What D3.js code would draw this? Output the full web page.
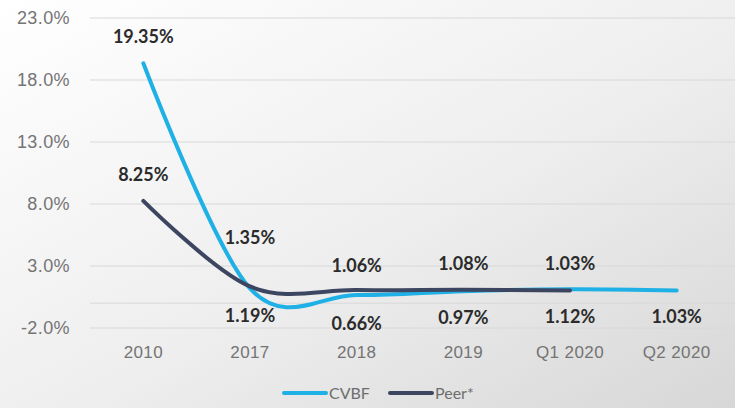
<!DOCTYPE html>
<html>
<head>
<meta charset="utf-8">
<script src="https://cdn.jsdelivr.net/npm/d3@7"></script>
<style>
  body { margin: 0; }
  svg { display: block; font-family: Lato, "Open Sans", sans-serif; }
  .tick text { fill: #747474; font-size: 18px; letter-spacing: 0.4px; }
  .val { font-weight: bold; fill: #2b2b2b; font-size: 18px; text-anchor: middle; }
  .leg { fill: #6e6e6e; font-size: 16px; }
</style>
</head>
<body>
<div id="chart"></div>
<script>
// Data
var categories = ["2010", "2017", "2018", "2019", "Q1 2020", "Q2 2020"];
var cvbf = [19.35, 1.19, 0.66, 0.97, 1.12, 1.03];
var peer = [8.25, 1.35, 1.06, 1.08, 1.03];
var yTicks = [-2, 3, 8, 13, 18, 23];

var width = 735, height = 408;
var plotLeft = 90, plotRight = 730, plotTop = 18, plotBottom = 328;

var svg = d3.select("#chart").append("svg")
    .attr("width", width)
    .attr("height", height);

// background gradient
var grad = svg.append("defs").append("linearGradient")
    .attr("id", "bg")
    .attr("x1", "0").attr("y1", "0")
    .attr("x2", "1").attr("y2", "1");
grad.append("stop").attr("offset", "0%").attr("stop-color", "#ffffff");
grad.append("stop").attr("offset", "55%").attr("stop-color", "#eeeeee");
grad.append("stop").attr("offset", "100%").attr("stop-color", "#d7d7d7");
svg.append("rect").attr("width", width).attr("height", height).attr("fill", "url(#bg)");

var x = d3.scaleBand().domain(categories).range([plotLeft, plotRight]);
var y = d3.scaleLinear().domain([-2, 23]).range([plotBottom, plotTop]);

function cx(i) { return x(categories[i]) + x.bandwidth() / 2; }

// gridlines
svg.append("g").selectAll("line")
    .data(yTicks.concat([0]))
    .enter().append("line")
    .attr("x1", plotLeft).attr("x2", width)
    .attr("y1", function(d) { return y(d); })
    .attr("y2", function(d) { return y(d); })
    .attr("stroke", "#d8d8d8")
    .attr("stroke-width", 1);

// y axis labels
var yAxis = d3.axisLeft(y).tickValues(yTicks)
    .tickFormat(function(d) { return d.toFixed(1) + "%"; })
    .tickSize(0).tickPadding(20);
svg.append("g")
    .attr("transform", `translate(${plotLeft}, 0)`)
    .call(yAxis)
    .call(function(g) { g.select(".domain").remove(); });

// x axis labels
var xAxis = d3.axisBottom(x).tickSize(0).tickPadding(18);
svg.append("g")
    .attr("transform", `translate(0, ${plotBottom})`)
    .call(xAxis)
    .call(function(g) { g.select(".domain").remove(); })
    .selectAll("text").style("font-size", "17px");

var line = d3.line()
    .x(function(d, i) { return cx(i); })
    .y(function(d) { return y(d); })
    .curve(d3.curveCatmullRom.alpha(0));

svg.append("path").datum(cvbf)
    .attr("d", line)
    .attr("fill", "none")
    .attr("stroke", "#1fb0e6")
    .attr("stroke-width", 4)
    .attr("stroke-linecap", "round");

svg.append("path").datum(peer)
    .attr("d", line)
    .attr("fill", "none")
    .attr("stroke", "#3d4660")
    .attr("stroke-width", 4)
    .attr("stroke-linecap", "round");

// value labels (baseline offsets from the point)
var peerDy = [-20, -42, -18, -20, -20];
var cvbfDy = [-20, 34, 35, 33, 34, 33];

svg.append("g").selectAll("text")
    .data(peer).enter().append("text")
    .attr("class", "val")
    .attr("x", function(d, i) { return cx(i); })
    .attr("y", function(d, i) { return y(d) + peerDy[i]; })
    .text(function(d) { return d.toFixed(2) + "%"; });

svg.append("g").selectAll("text")
    .data(cvbf).enter().append("text")
    .attr("class", "val")
    .attr("x", function(d, i) { return cx(i); })
    .attr("y", function(d, i) { return y(d) + cvbfDy[i]; })
    .text(function(d) { return d.toFixed(2) + "%"; });

// legend
var legend = [
  { name: "CVBF", color: "#1fb0e6", x: 284 },
  { name: "Peer*", color: "#3d4660", x: 390 }
];
var lg = svg.append("g").selectAll("g")
    .data(legend).enter().append("g")
    .attr("transform", function(d) { return `translate(${d.x}, 393)`; });
lg.append("line")
    .attr("x1", 0).attr("x2", 42)
    .attr("stroke", function(d) { return d.color; })
    .attr("stroke-width", 4)
    .attr("stroke-linecap", "round");
lg.append("text")
    .attr("class", "leg")
    .attr("x", 45).attr("y", 6)
    .text(function(d) { return d.name; });
</script>
</body>
</html>
